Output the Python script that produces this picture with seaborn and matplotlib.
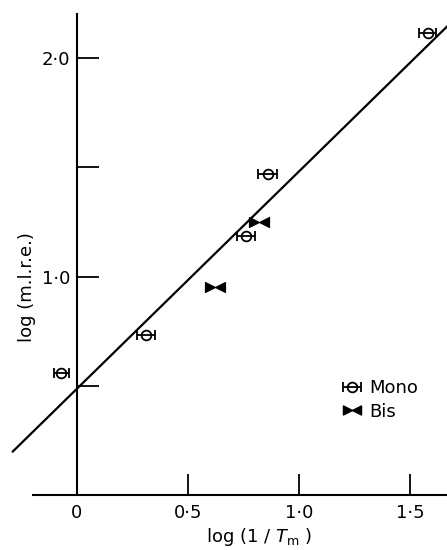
import numpy as np
import matplotlib
matplotlib.use("Agg")
import matplotlib.pyplot as plt
from matplotlib.path import Path
from matplotlib.lines import Line2D
import seaborn as sns

# ---- data ----
mono_x = [-0.07, 0.31, 0.76, 0.86, 1.58]
mono_y = [0.56, 0.735, 1.185, 1.47, 2.11]
mono_xerr = [0.035, 0.04, 0.04, 0.043, 0.038]
bis_x = [0.62, 0.82]
bis_y = [0.95, 1.25]
fit_x = [-0.29, 1.67]
fit_y = [0.20, 2.145]
xticks = [0, 0.5, 1.0, 1.5]
xticklabels = ["0", "0\u00b75", "1\u00b70", "1\u00b75"]
yticks = [0.5, 1.0, 1.5, 2.0]
yticklabels = ["", "1\u00b70", "", "2\u00b70"]

sns.set_style("white")
plt.rcParams["font.family"] = ["DejaVu Sans"]
plt.rcParams["mathtext.fontset"] = "dejavusans"
plt.rcParams["text.color"] = "black"
plt.rcParams["axes.labelcolor"] = "black"
plt.rcParams["xtick.color"] = "black"
plt.rcParams["ytick.color"] = "black"

fig = plt.figure(figsize=(4.47, 5.5), dpi=100)
ax = fig.add_axes([0, 0, 1, 1])
ax.set_facecolor("white")

# fitted line
sns.lineplot(x=fit_x, y=fit_y, color="black", lw=1.6, ax=ax)

# Mono points with horizontal error bars
mono = ax.errorbar(mono_x, mono_y, xerr=mono_xerr, fmt="o", ms=7, mfc="none",
                   mec="black", mew=1.3, ecolor="black", elinewidth=1.3,
                   capsize=3.5, capthick=1.3, color="black", label="Mono")

# Bis: bowtie markers
bowtie = Path([(-1, -0.5), (0, 0), (-1, 0.5), (-1, -0.5),
               (1, -0.5), (0, 0), (1, 0.5), (1, -0.5)],
              [Path.MOVETO, Path.LINETO, Path.LINETO, Path.CLOSEPOLY,
               Path.MOVETO, Path.LINETO, Path.LINETO, Path.CLOSEPOLY])
sns.scatterplot(x=bis_x, y=bis_y, marker=bowtie, s=210, color="black",
                edgecolor="black", linewidth=0.8, ax=ax)

ax.set_xlim(-0.3468, 1.6667)
ax.set_ylim(-0.249, 2.263)

for s in ["top", "right"]:
    ax.spines[s].set_visible(False)
ax.spines["left"].set_position(("data", 0))
ax.spines["bottom"].set_position(("data", 0))
ax.spines["left"].set_bounds(0, 2.2)
ax.spines["bottom"].set_bounds(-0.2, 1.6667)
for s in ["left", "bottom"]:
    ax.spines[s].set_linewidth(1.5)
    ax.spines[s].set_color("black")

ax.set_xticks(xticks)
ax.set_xticklabels(xticklabels)
ax.set_yticks(yticks)
ax.set_yticklabels(yticklabels)
ax.tick_params(axis="x", direction="in", length=15, width=1.3, pad=6,
               labelsize=13, colors="black", bottom=True)
ax.tick_params(axis="y", direction="in", length=16, width=1.3, pad=5,
               labelsize=13, colors="black", left=True)

ax.set_xlabel("log (1 / $T_{\\rm m}$ )", fontsize=13, color="black")
ax.xaxis.label.set_va("center")
ax.xaxis.set_label_coords(0.579, 0.024)
ax.set_ylabel("log (m.l.r.e.)", fontsize=13, color="black")
ax.yaxis.label.set_va("center")
ax.yaxis.set_label_coords(0.06, 0.478)

bis_handle = Line2D([], [], marker=bowtie, ls="none", color="black",
                    markersize=13)
leg = ax.legend([mono, bis_handle], ["Mono", "Bis"], loc="upper left",
                bbox_to_anchor=(0.767, 0.311), frameon=False, fontsize=13,
                handlelength=1.0, handletextpad=0.45, borderpad=0,
                borderaxespad=0, labelspacing=0.32)
for t in leg.get_texts():
    t.set_color("black")

fig.savefig("out.png", dpi=100, facecolor="white")
